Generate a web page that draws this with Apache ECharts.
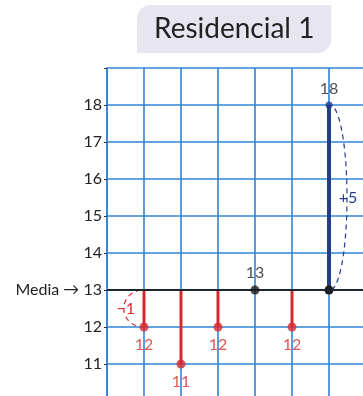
<!DOCTYPE html>
<html>
<head>
<meta charset="utf-8">
<script src="https://cdn.jsdelivr.net/npm/echarts@6/dist/echarts.min.js"></script>
<style>
  html, body { margin: 0; padding: 0; background: #fff; }
  #main { width: 363px; height: 396px; }
</style>
</head>
<body>
<div id="main"></div>
<script>
  // datos
  var positions = [1, 2, 3, 4, 5, 6];
  var values = [12, 11, 12, 13, 12, 18];
  var media = 13;
  var yTicks = [11, 12, 13, 14, 15, 16, 17, 18];
  var arcIndex = [0, 5];   // desviaciones marcadas con arco

  var RED = '#d62a31';
  var BLUE = '#243d8f';
  var BLACK = '#1b1b1b';
  var GRID = '#2f84d6';

  function colorOf(v) {
    if (v < media) return RED;
    if (v > media) return BLUE;
    return BLACK;
  }

  var pts = positions.map(function (x, i) {
    var v = values[i];
    return {
      value: [x, v],
      symbolSize: v > media ? 7 : 9,
      itemStyle: { color: colorOf(v) },
      label: {
        position: v < media ? 'bottom' : 'top',
        color: v < media ? RED : '#222'
      }
    };
  });

  var stems = positions.map(function (x, i) { return [x, values[i]]; });
  var arcs = arcIndex.map(function (i) { return [positions[i], values[i]]; });

  var myChart = echarts.init(document.getElementById('main'));
  var option = {
    animation: false,
    textStyle: { fontFamily: 'Lato' },
    title: {
      text: 'Residencial 1',
      left: 137,
      top: 5,
      backgroundColor: '#e7e5f0',
      borderRadius: [14, 0, 14, 0],
      padding: [7, 17, 7, 17],
      textStyle: {
        fontFamily: 'Lato',
        fontWeight: 'normal',
        fontSize: 28,
        lineHeight: 34,
        color: '#222'
      }
    },
    grid: { left: 107, top: 68, width: 259, height: 333, outerBoundsMode: 'none' },
    xAxis: {
      type: 'value',
      min: 0,
      max: 7,
      interval: 1,
      axisLine: { show: false },
      axisTick: { show: false },
      axisLabel: { show: false },
      splitLine: { show: true, lineStyle: { color: GRID, width: 1.6 } }
    },
    yAxis: {
      type: 'value',
      min: 10,
      max: 19,
      interval: 1,
      axisLine: { show: true, lineStyle: { color: GRID, width: 1.6 } },
      axisTick: { show: true, length: 3, lineStyle: { color: '#333', width: 1 } },
      axisLabel: {
        margin: 5,
        fontSize: 16,
        color: '#222',
        formatter: function (v) {
          if (yTicks.indexOf(v) < 0) return '';
          if (v === media) return 'Media \u2192 ' + v;
          return String(v);
        }
      },
      splitLine: { show: true, lineStyle: { color: GRID, width: 1.6 } }
    },
    series: [
      {
        // línea de la media
        type: 'line',
        data: [],
        markLine: {
          silent: true,
          symbol: 'none',
          label: { show: false },
          lineStyle: { color: '#1c2530', width: 2, type: 'solid' },
          data: [{ yAxis: media }]
        }
      },
      {
        // tallos desde la media
        type: 'custom',
        data: stems,
        renderItem: function (params, api) {
          var x = api.value(0), v = api.value(1);
          if (v === media) return;
          var p0 = api.coord([x, media]);
          var p1 = api.coord([x, v]);
          var children = [{
            type: 'line',
            shape: { x1: p0[0], y1: p0[1], x2: p1[0], y2: p1[1] },
            style: { stroke: colorOf(v), lineWidth: v > media ? 4 : 3 }
          }];
          if (v > media) {
            children.push({
              type: 'circle',
              shape: { cx: p0[0], cy: p0[1], r: 4.5 },
              style: { fill: BLACK }
            });
          }
          return { type: 'group', children: children };
        },
        z: 3
      },
      {
        // arcos de desviación
        type: 'custom',
        data: arcs,
        renderItem: function (params, api) {
          var x = api.value(0), v = api.value(1);
          var p0 = api.coord([x, media]);
          var p1 = api.coord([x, v]);
          var dir = v < media ? -1 : 1;
          var bulge = v < media ? 23 : 20;
          var c = colorOf(v);
          var diff = v - media;
          var txt = diff < 0 ? '\u2212' + Math.abs(diff) : '+' + diff;
          var midY = (p0[1] + p1[1]) / 2;
          var x0 = p0[0] + dir * 3;
          return {
            type: 'group',
            children: [
              {
                type: 'bezierCurve',
                shape: {
                  x1: x0, y1: p0[1],
                  cpx1: x0 + dir * bulge, cpy1: p0[1] + (p1[1] - p0[1]) * 0.1,
                  cpx2: x0 + dir * bulge, cpy2: p1[1] - (p1[1] - p0[1]) * 0.1,
                  x2: x0, y2: p1[1]
                },
                style: { stroke: c, fill: null, lineWidth: 1.2, lineDash: [5, 4] }
              },
              {
                type: 'text',
                x: x0 + dir * bulge * 0.75 + (dir < 0 ? 2 : 1),
                y: midY,
                style: {
                  text: txt,
                  fill: c,
                  font: '16px Lato',
                  align: 'center',
                  verticalAlign: 'middle'
                }
              }
            ]
          };
        },
        z: 4
      },
      {
        // puntos y etiquetas
        type: 'scatter',
        data: pts,
        label: {
          show: true,
          fontSize: 16,
          distance: 5,
          formatter: function (p) { return p.value[1]; }
        },
        z: 5
      }
    ]
  };
  myChart.setOption(option);
</script>
</body>
</html>
